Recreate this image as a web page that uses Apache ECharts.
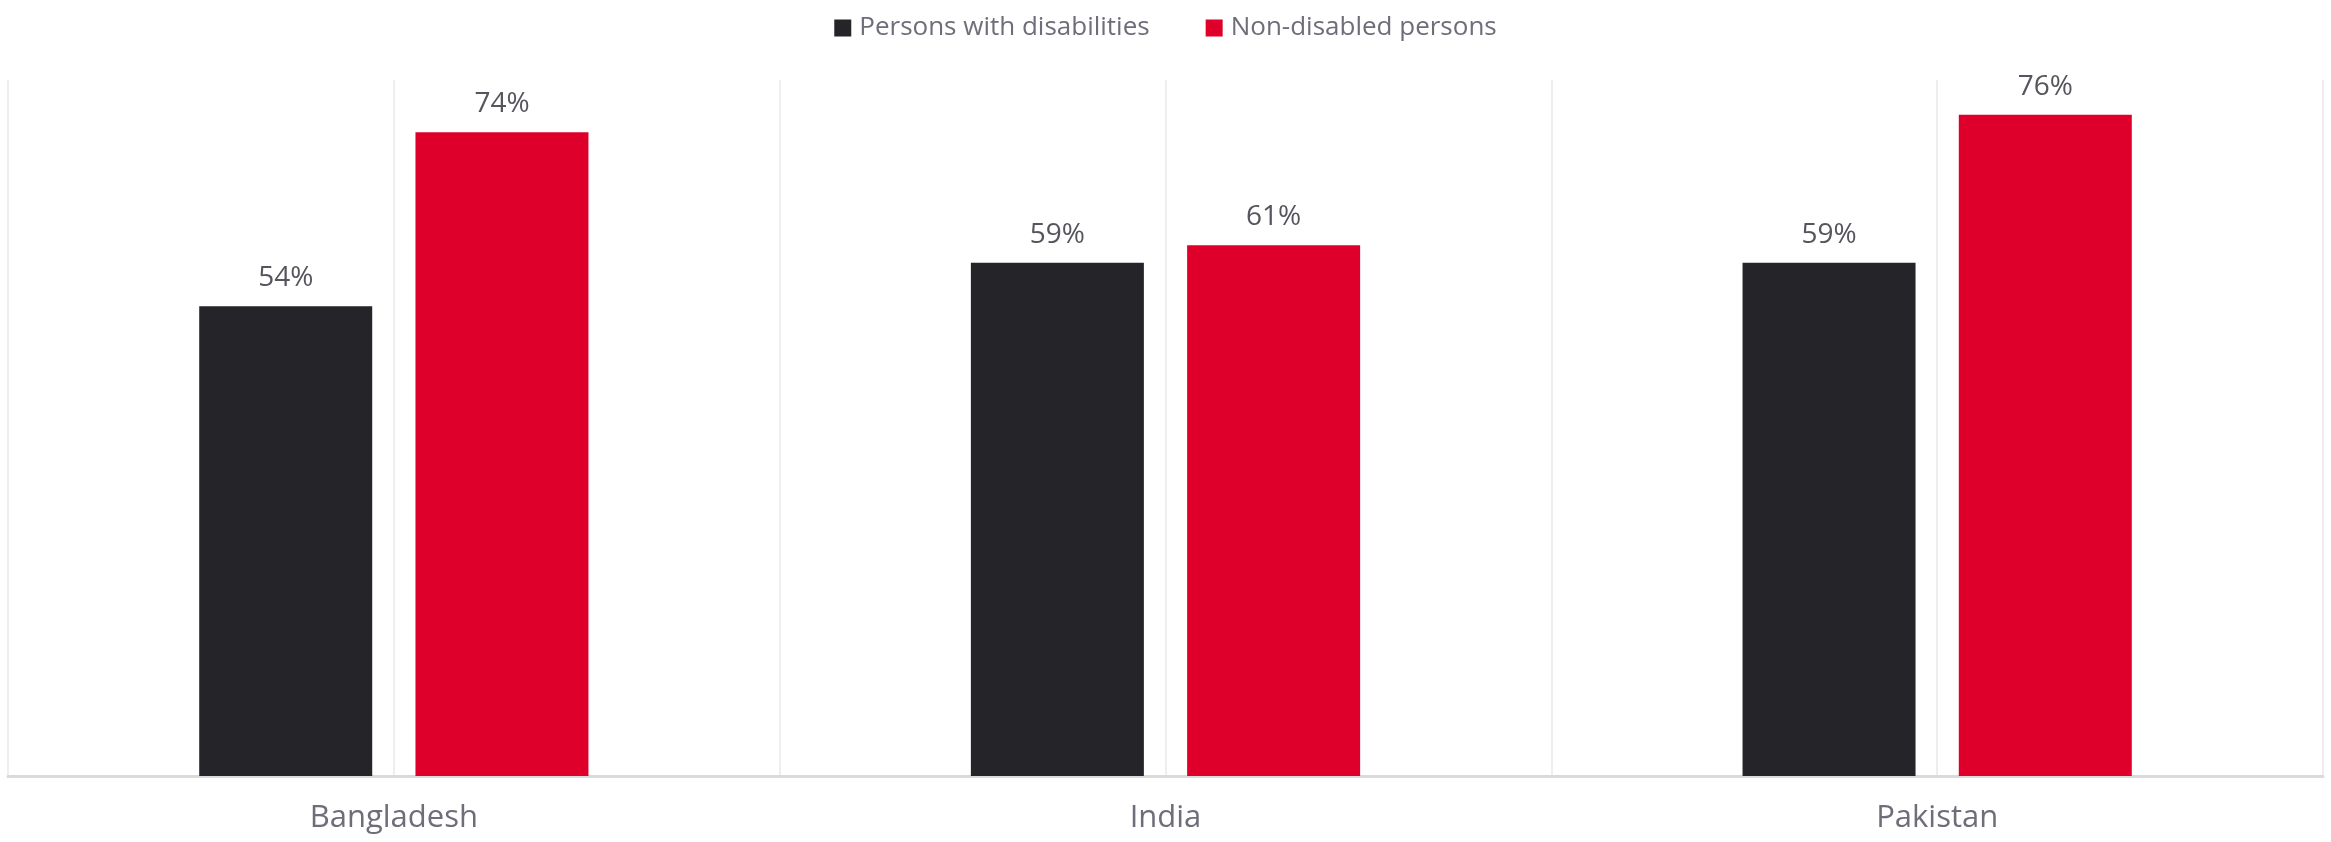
<!DOCTYPE html>
<html>
<head>
<meta charset="utf-8">
<script src="https://cdn.jsdelivr.net/npm/echarts@6/dist/echarts.min.js"></script>
<style>html,body{margin:0;padding:0;background:#fff}#c{width:2331px;height:842px}</style>
</head>
<body>
<div id="c"></div>
<script>
const categories = ['Bangladesh', 'India', 'Pakistan'];
const seriesNames = ['Persons with disabilities', 'Non-disabled persons'];
const disabled = [54, 59, 59];
const nonDisabled = [74, 61, 76];
const gridSlots = ['', '', '', '', '', ''];

const chart = echarts.init(document.getElementById('c'));
const font = '"Open Sans", sans-serif';
chart.setOption({
  animation: false,
  backgroundColor: '#ffffff',
  textStyle: { fontFamily: font },
  legend: {
    top: 10,
    left: 'center',
    itemWidth: 17,
    itemHeight: 17,
    itemGap: 56,
    icon: 'rect',
    textStyle: { fontFamily: font, fontSize: 26, color: '#6e6e7a', padding: [0, 0, 0, 3] },
    data: seriesNames
  },
  grid: { left: 8, right: 8, top: 80, bottom: 66, containLabel: false },
  xAxis: [
    {
      type: 'category',
      data: categories,
      axisLine: { show: true, lineStyle: { color: '#dadada', width: 3 } },
      axisTick: { show: false },
      splitLine: { show: false },
      axisLabel: { fontFamily: font, fontSize: 31, color: '#6e6e7a', margin: 27 }
    },
    {
      type: 'category',
      data: gridSlots,
      position: 'bottom',
      axisLine: { show: false },
      axisTick: { show: false },
      axisLabel: { show: false },
      splitLine: { show: true, lineStyle: { color: '#eeeeee', width: 2 } }
    }
  ],
  yAxis: {
    type: 'value',
    min: 0,
    max: 80,
    show: false,
    splitLine: { show: false }
  },
  series: [
    {
      name: seriesNames[0],
      type: 'bar',
      xAxisIndex: 0,
      data: disabled,
      barWidth: 173,
      barGap: '25%',
      itemStyle: { color: '#252529' },
      label: { show: true, position: 'top', distance: 14, formatter: '{c}%', fontFamily: font, fontSize: 28, color: '#55555e' }
    },
    {
      name: seriesNames[1],
      type: 'bar',
      xAxisIndex: 0,
      data: nonDisabled,
      barWidth: 173,
      barGap: '25%',
      itemStyle: { color: '#de002b' },
      label: { show: true, position: 'top', distance: 14, formatter: '{c}%', fontFamily: font, fontSize: 28, color: '#55555e' }
    }
  ]
});
</script>
</body>
</html>
